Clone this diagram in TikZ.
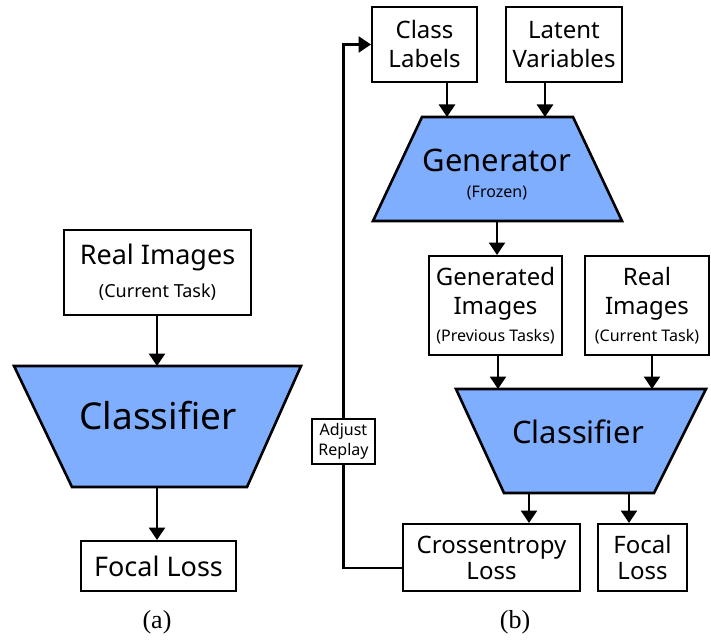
\documentclass[tikz,border=0pt]{standalone}
\usepackage{fontspec}
\setmainfont{Noto Sans}
\newfontfamily\capfont{Liberation Serif}
\usetikzlibrary{arrows.meta}
\definecolor{netblue}{RGB}{128,174,255}
\newcommand\setfs[2]{\fontsize{#1}{#2}\selectfont}
\tikzset{
  box/.style={draw, line width=2pt, fill=white, inner sep=0pt, align=center},
  net/.style={draw, line width=2.6pt, fill=netblue, line join=miter},
  arr/.style={line width=2.6pt, -{Triangle[length=12.5pt,width=16pt]}},
  link/.style={line width=2.6pt},
  captxt/.style={font=\capfont\setfs{26}{30}},
}
\begin{document}
\begin{tikzpicture}[x=1pt, y=-1pt]
\useasboundingbox (0,0) rectangle (711,639);

% ---------- (a): classifier trained on real images only ----------
\node[box, minimum width=187pt, minimum height=85pt, font=\setfs{27}{32}]
  (riA) at (157.5,272.5) {\raisebox{-3pt}{Real Images}\\[1pt]{\setfs{18}{22}\raisebox{-3pt}{(Current Task)}}};

\path[net] (14,366) -- (301,366) -- (247,487) -- (72,487) -- cycle;
\coordinate (clsAtop) at (157,366);
\coordinate (clsAbot) at (157,487);
\node[font=\setfs{37}{44}] (clsA) at (158,416) {Classifier};

\node[box, minimum width=155pt, minimum height=50pt, font=\setfs{27}{32}]
  (flA) at (158.5,566) {Focal Loss};

\draw[arr] (riA.south -| clsAtop) -- (clsAtop);
\draw[arr] (clsAbot) -- (clsAbot |- flA.north);

\node[captxt] (capA) at (157,622) {(a)};

% ---------- (b): generative replay with a frozen generator ----------
\node[box, minimum width=105pt, minimum height=75pt, font=\setfs{24}{29}]
  (cl) at (424.5,44.5) {Class\\Labels};
\node[box, minimum width=116pt, minimum height=75pt, font=\setfs{24}{29}]
  (lv) at (564,44.5) {Latent\\Variables};

\path[net] (422,117) -- (573,117) -- (622,221) -- (373,221) -- cycle;
\coordinate (genInL) at (447,117);
\coordinate (genInR) at (545,117);
\coordinate (genOut) at (497,221);
\node[font=\setfs{31}{36}] (gen) at (497,160) {Generator};
\node[font=\setfs{16}{19}] (frz) at (497,193) {(Frozen)};

\node[box, minimum width=133pt, minimum height=99pt, font=\setfs{24}{29}]
  (gi) at (495.5,305.5) {Generated\\Images\\[-2pt]{\setfs{16}{19}(Previous Tasks)}};
\node[box, minimum width=124pt, minimum height=99pt, font=\setfs{24}{29}]
  (riB) at (647,305.5) {Real\\Images\\[-2pt]{\setfs{16}{19}(Current Task)}};

\path[net] (456,389) -- (706,389) -- (654,493) -- (504,493) -- cycle;
\coordinate (clsInL) at (498,389);
\coordinate (clsInR) at (652,389);
\coordinate (clsOutL) at (529,493);
\coordinate (clsOutR) at (629,493);
\node[font=\setfs{31}{36}] (clsB) at (578,432) {Classifier};

\node[box, minimum width=177pt, minimum height=67pt, font=\setfs{24}{26}]
  (ce) at (491.5,557.5) {Crossentropy\\Loss};
\node[box, minimum width=89pt, minimum height=67pt, font=\setfs{24}{26}]
  (flB) at (642.5,557.5) {Focal\\Loss};

\node[box, minimum width=63pt, minimum height=45pt, font=\setfs{16}{20}]
  (adj) at (343.5,441.5) {Adjust\\Replay};

\draw[arr] (cl.south -| genInL) -- (genInL);
\draw[arr] (lv.south -| genInR) -- (genInR);
\draw[arr] (genOut) -- (genOut |- gi.north);
\draw[arr] (gi.south -| clsInL) -- (clsInL);
\draw[arr] (riB.south -| clsInR) -- (clsInR);
\draw[arr] (clsOutL) -- (clsOutL |- ce.north);
\draw[arr] (clsOutR) -- (clsOutR |- flB.north);

% feedback from the crossentropy loss back to the class labels
\coordinate (fbStart) at (403,568);
\draw[link] (ce.west |- fbStart) -| (adj.south);
\draw[arr] (adj.north) |- (cl.west);

\node[captxt] (capB) at (515,622) {(b)};
\end{tikzpicture}
\end{document}
